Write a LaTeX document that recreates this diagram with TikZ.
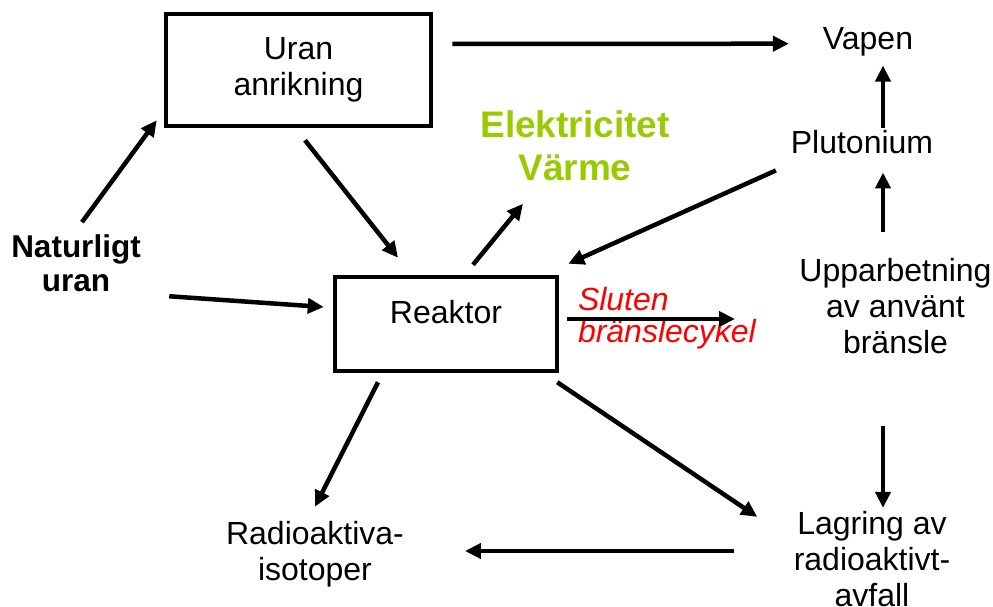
\documentclass[tikz,border=0pt]{standalone}
\usepackage{fontspec}
\setmainfont{Liberation Sans}
\usepackage{xcolor}
\usetikzlibrary{arrows.meta}
\definecolor{gronvit}{HTML}{99CC00}

\begin{document}
\begin{tikzpicture}[x=1pt, y=-1pt,
  every node/.style={font=\fontsize{32}{36}\selectfont, align=center, inner sep=0pt, outer sep=0pt},
  box/.style={draw, line width=4.5pt, outer sep=2.25pt},
  arr/.style={-{Triangle[length=16pt,width=15pt]}, line width=4.5pt}]
  \useasboundingbox (0,0) rectangle (993,607);

  % Boxes
  \node (uran) [box, minimum width=265pt, minimum height=112pt] at (298.5,70) {Uran\\anrikning};
  \node (reaktor) [box, minimum width=222pt, minimum height=94pt, text depth=25pt] at (446,324) {Reaktor};

  % Text nodes
  \node (naturligt) [font=\fontsize{31.5}{34}\selectfont\bfseries] at (76,263.7) {Naturligt\\uran};
  \node (el) [font=\fontsize{37}{43}\selectfont\bfseries, text=gronvit] at (575,145.7) {Elektricitet\\Värme};
  \node (sluten) [anchor=west, align=left, font=\fontsize{32}{32}\selectfont\itshape, text=red] at (578,318) {Sluten\\bränslecykel};
  \node (vapen) at (868,41.7) {Vapen};
  \node (plutonium) at (862,141.7) {Plutonium};
  \node (upparb) at (895.5,306) {Upparbetning\\av använt\\bränsle};
  \node (lagring) at (872,559) {Lagring av\\radioaktivt-\\avfall};
  \node (radio) at (315,554) {Radioaktiva-\\isotoper};
  \coordinate (cykel) at (735,319);

  % Arrows
  \draw[arr] ([shift={(19,-26)}]uran.east) -- ([shift={(-34,2)}]vapen.west);
  \draw[arr] ([shift={(6,-13)}]naturligt.north) -- ([shift={(-7,-8)}]uran.south west);
  \draw[arr] ([shift={(6.5,12)}]uran.south) -- ([shift={(-48,-17)}]reaktor.north);
  \draw[arr] ([shift={(28.5,4)}]naturligt.south east) -- ([shift={(-9,-17)}]reaktor.west);
  \draw[arr] ([shift={(27,-10)}]reaktor.north) -- ([shift={(-52,23)}]el.south);
  \draw[arr] ([shift={(-15,17)}]plutonium.south west) -- ([shift={(9,-11)}]reaktor.north east);
  \draw[arr] ([shift={(8,-5)}]reaktor.east) -- (cykel);
  \draw[arr] ([shift={(-12.5,-26.4)}]upparb.north) -- ([shift={(21,19)}]plutonium.south);
  \draw[arr] ([shift={(21,-2.4)}]plutonium.north) -- ([shift={(15,9.5)}]vapen.south);
  \draw[arr] ([shift={(-12.5,72)}]upparb.south) -- ([shift={(11,-3.4)}]lagring.north);
  \draw[arr] ([shift={(-2,9)}]reaktor.south east) -- ([shift={(-36.5,5.6)}]lagring.north west);
  \draw[arr] ([shift={(-68,9)}]reaktor.south) -- ([shift={(0,-14.4)}]radio.north);
  \draw[arr] ([shift={(-59.5,-8)}]lagring.west) -- ([shift={(61,-3)}]radio.east);
\end{tikzpicture}
\end{document}
